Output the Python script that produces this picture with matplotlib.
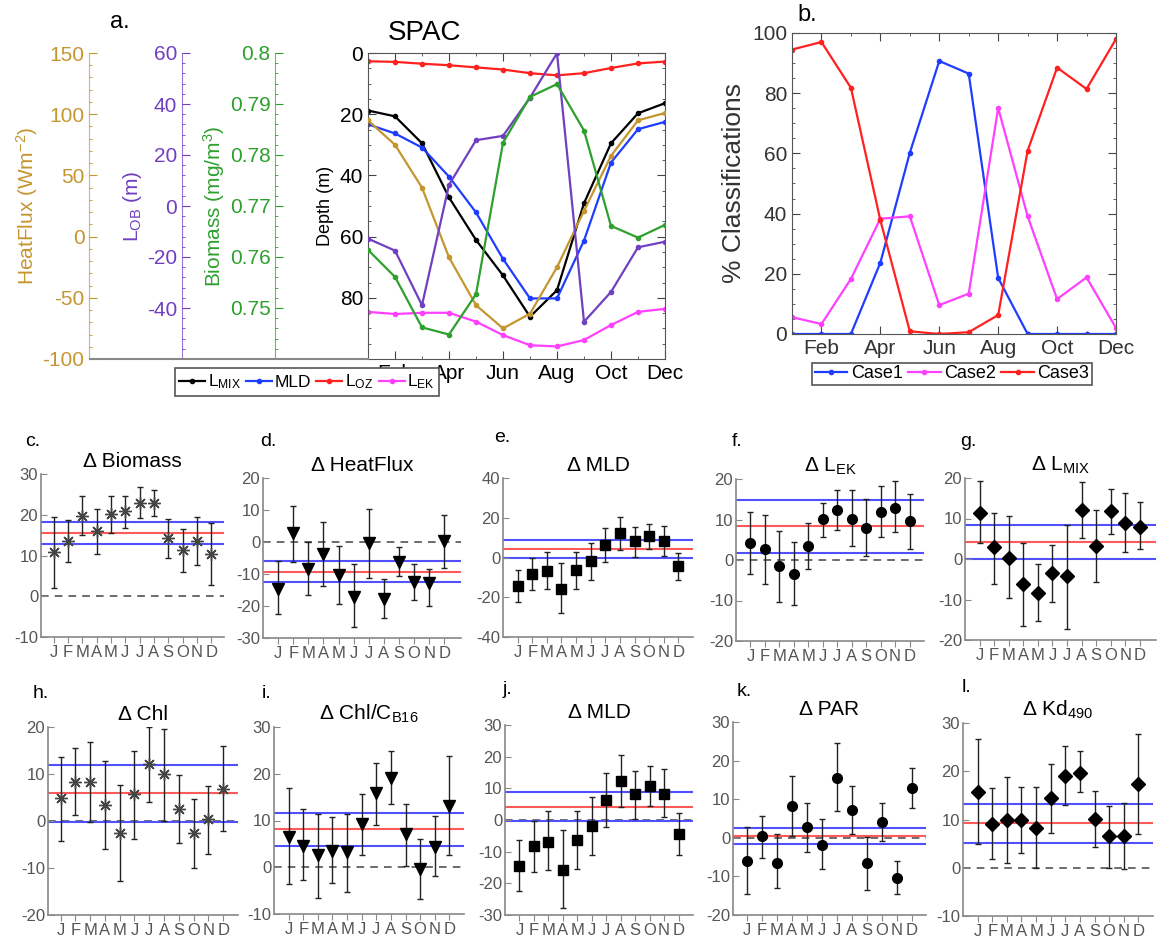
import numpy as np
import matplotlib.pyplot as plt
from matplotlib.ticker import AutoMinorLocator, MultipleLocator
from matplotlib.lines import Line2D

plt.rcParams['font.family'] = ['Liberation Sans', 'DejaVu Sans']
plt.rcParams['mathtext.fontset'] = 'custom'
plt.rcParams['mathtext.rm'] = 'Liberation Sans'
plt.rcParams['mathtext.default'] = 'regular'
plt.rcParams['axes.unicode_minus'] = False

W, H = 1160, 942

# ---- panel a: SPAC seasonal cycle ----
months = np.arange(1, 13)
month_labels = ['Feb', 'Apr', 'Jun', 'Aug', 'Oct', 'Dec']
month_letters = ['J', 'F', 'M', 'A', 'M', 'J', 'J', 'A', 'S', 'O', 'N', 'D']

l_mix = [18.8, 20.7, 29.5, 47.2, 61.1, 72.7, 86.2, 77.5, 49.1, 29.5, 19.7, 16.4]
mld = [23.3, 26.3, 30.9, 40.4, 52.1, 67.3, 80.2, 80.2, 61.3, 35.8, 24.9, 22.5]
l_oz = [2.7, 2.9, 3.5, 4.0, 4.7, 5.4, 6.6, 7.3, 6.6, 4.9, 3.4, 2.8]
l_ek = [84.6, 85.3, 84.9, 84.9, 87.8, 92.2, 95.5, 95.9, 93.8, 88.9, 84.6, 83.6]
heatflux = [95, 75, 40, -17, -56, -75, -63, -25, 21, 66, 95, 101]
l_ob = [-12.8, -17.5, -38.9, 8.3, 25.8, 27.5, 42.5, 59.9, -45.4, -33.7, -16.2, -14.0]
biomass = [0.7614, 0.7561, 0.7462, 0.7448, 0.7527, 0.7824, 0.7914, 0.7939,
           0.7848, 0.7661, 0.7638, 0.7663]

# ---- panel b: % classifications ----
case1 = [0, 0, 0, 23.7, 60.2, 90.7, 86.5, 18.6, 0, 0, 0, 0]
case2 = [5.6, 3.3, 18.3, 38.3, 39.1, 9.6, 13.4, 75.1, 39.1, 11.6, 18.8, 2.0]
case3 = [94.5, 97.0, 81.8, 37.8, 0.9, 0, 0.6, 6.3, 60.9, 88.5, 81.4, 98.0]

# ---- panels c-l: monthly deltas (value, lower, upper) and reference lines ----
d_biomass = [10.9, 13.5, 19.8, 15.9, 20.2, 21.0, 23.0, 22.9, 14.3, 11.3, 13.5, 10.4]
d_biomass_lo = [2.0, 8.3, 15.1, 10.4, 15.5, 16.7, 19.2, 19.8, 9.4, 5.9, 7.6, 2.7]
d_biomass_hi = [19.4, 18.6, 24.5, 21.5, 24.7, 24.7, 26.9, 26.0, 19.0, 16.6, 19.4, 18.0]
d_biomass_ref = [18.1, 15.5, 12.9]

d_heat = [-14.6, 2.7, -8.3, -3.8, -10.4, -17.2, -0.4, -17.7, -6.2, -12.5, -12.8, 0.4]
d_heat_lo = [-22.6, -6.2, -16.7, -13.7, -19.5, -26.6, -11.2, -23.7, -10.7, -18.2, -20.1, -8.1]
d_heat_hi = [-5.9, 11.1, -0.1, 6.4, -1.2, -7.0, 10.4, -11.7, -1.5, -6.9, -8.3, 8.5]
d_heat_ref = [-6.0, -9.3, -12.5]

d_mld = [-14.4, -8.1, -6.9, -15.8, -6.4, -1.8, 6.2, 12.4, 8.2, 10.7, 8.2, -4.4]
d_mld_lo = [-22.3, -16.4, -15.8, -27.9, -15.6, -11.1, -2.2, 4.0, 0.3, 4.4, 1.0, -11.1]
d_mld_hi = [-6.4, -0.2, 2.9, -3.0, 2.9, 7.4, 14.9, 20.5, 15.4, 17.1, 16.1, 2.3]
d_mld_ref = [8.8, 4.2, -0.3]

d_lek = [4.2, 2.6, -1.6, -3.4, 3.5, 10.1, 12.3, 10.2, 8.0, 11.9, 12.9, 9.6]
d_lek_lo = [-3.4, -6.0, -10.4, -11.2, -2.1, 5.7, 7.3, 3.5, 0.9, 5.7, 6.8, 2.8]
d_lek_hi = [11.9, 11.1, 7.1, 4.5, 9.2, 14.1, 17.4, 17.2, 15.0, 18.3, 19.5, 16.2]
d_lek_ref = [14.9, 8.3, 1.8]

d_lmix = [11.4, 3.0, 0.2, -6.2, -8.3, -3.5, -4.3, 12.2, 3.2, 11.8, 8.8, 8.0]
d_lmix_lo = [4.0, -6.2, -9.7, -16.5, -15.4, -10.5, -17.3, 5.3, -5.6, 6.2, 1.8, 2.4]
d_lmix_hi = [19.2, 11.4, 10.6, 4.0, -1.2, 3.4, 8.4, 18.9, 12.1, 17.2, 16.3, 14.1]
d_lmix_ref = [8.5, 4.3, 0.0]

d_chl = [4.8, 8.4, 8.2, 3.5, -2.6, 5.8, 12.1, 9.9, 2.5, -2.5, 0.4, 6.9]
d_chl_lo = [-4.3, 1.2, -0.2, -5.9, -12.8, -3.9, 4.1, 0.1, -4.6, -9.9, -7.1, -2.1]
d_chl_hi = [13.7, 15.6, 16.8, 12.8, 7.6, 14.8, 19.9, 19.5, 9.8, 4.7, 7.4, 15.9]
d_chl_ref = [12.0, 5.9, -0.2]

d_chlc = [6.5, 4.5, 2.6, 3.5, 3.3, 9.2, 15.8, 19.1, 7.2, -0.4, 4.4, 13.1]
d_chlc_lo = [-3.6, -2.8, -6.5, -3.4, -5.4, 2.7, 9.1, 13.6, 0.3, -6.8, -1.8, 2.6]
d_chlc_hi = [17.0, 12.4, 11.4, 10.7, 11.4, 15.6, 22.2, 24.8, 13.6, 6.1, 10.9, 23.7]
d_chlc_ref = [11.5, 8.1, 4.5]

d_par = [-5.9, 0.4, -6.5, 8.3, 2.7, -1.9, 15.5, 7.2, -6.6, 4.1, -10.3, 12.8]
d_par_lo = [-14.6, -5.3, -13.1, 0.4, -3.6, -8.2, 6.9, 0.9, -13.4, -0.8, -14.6, 7.6]
d_par_hi = [2.8, 5.6, 0.9, 16.0, 9.1, 4.8, 24.6, 13.4, 0.3, 9.1, -6.0, 18.2]
d_par_ref = [2.6, 0.4, -1.6]

d_kd = [15.6, 9.1, 9.9, 9.9, 8.2, 14.4, 19.0, 19.7, 10.2, 6.6, 6.6, 17.3]
d_kd_lo = [4.9, 1.8, 1.0, 3.0, -0.1, 7.1, 13.0, 15.6, 4.4, 0.0, -0.3, 6.9]
d_kd_hi = [26.7, 16.5, 18.9, 16.8, 16.7, 21.5, 25.3, 24.1, 15.9, 12.8, 13.5, 27.8]
d_kd_ref = [13.2, 9.2, 5.2]


def box(l, t, r, b):
    return [l / W, 1 - b / H, (r - l) / W, (b - t) / H]


fig = plt.figure(figsize=(W / 100, H / 100), dpi=100)

# ================= panel a =================
gold, purple, green = '#c4962f', '#7040c0', '#2ea02e'
ax = fig.add_axes(box(368, 53, 665, 359))


def side_axis(frac, color, ylim, ticks, fmt, label):
    tw = ax.twinx()
    tw.set_ylim(*ylim)
    for s in ['top', 'right', 'bottom']:
        tw.spines[s].set_visible(False)
    tw.spines['left'].set_visible(True)
    tw.spines['left'].set_position(('axes', frac))
    tw.spines['left'].set_color(color)
    tw.spines['left'].set_alpha(0.7)
    tw.yaxis.set_ticks_position('left')
    tw.yaxis.set_label_position('left')
    tw.set_yticks(ticks)
    tw.set_yticklabels([fmt(t) for t in ticks])
    tw.yaxis.set_minor_locator(AutoMinorLocator(5))
    tw.tick_params(which='both', direction='in', colors=color, labelsize=15)
    tw.tick_params(which='major', length=6)
    tw.set_ylabel(label, color=color, fontsize=15, labelpad=2)
    return tw


ax_hf = side_axis(-0.938, gold, (-100, 150), range(-100, 151, 50),
                  lambda t: f'{t}', 'HeatFlux (Wm$^{-2}$)')
ax_ob = side_axis(-0.6255, purple, (-60, 60), range(-40, 61, 20),
                  lambda t: f'{t}', 'L$_{OB}$ (m)')
ax_bm = side_axis(-0.312, green, (0.74, 0.80), [0.75, 0.76, 0.77, 0.78, 0.79, 0.80],
                  lambda t: f'{t:g}', 'Biomass (mg/m$^3$)')

kw = dict(marker='.', ms=6, lw=1.6)
ax.plot(months, l_mix, color='k', label='L$_{MIX}$', **kw)
ax.plot(months, mld, color='#1f3dff', label='MLD', **kw)
ax.plot(months, l_oz, color='#ff2020', label='L$_{OZ}$', **kw)
ax.plot(months, l_ek, color='#ff40ff', label='L$_{EK}$', **kw)
ax_hf.plot(months, heatflux, color=gold, **kw)
ax_ob.plot(months, l_ob, color=purple, **kw)
ax_bm.plot(months, biomass, color=green, **kw)

ax.set_xlim(1, 12)
ax.set_ylim(100, 0)
ax.set_xticks(months[1::2])
ax.set_xticklabels(month_labels)
ax.xaxis.set_minor_locator(MultipleLocator(1))
ax.set_yticks(range(0, 100, 20))
ax.yaxis.set_minor_locator(MultipleLocator(5))
ax.tick_params(which='both', direction='in', top=True, right=True, labelsize=15,
               color='#444')
ax.tick_params(which='major', length=6)
ax.tick_params(axis='y', which='both', left=True, right=True, labelleft=True,
               labelright=False)
for s in ax.spines.values():
    s.set_color('#555')
ax.set_ylabel('Depth (m)', fontsize=13, labelpad=4)

fig.add_artist(Line2D([90 / W, 368 / W], [1 - 359 / H] * 2, color='#888', lw=1.5))
fig.text(120 / W, 1 - 22 / H, 'a.', fontsize=17, ha='center', va='center')
fig.text(425 / W, 1 - 33 / H, 'SPAC', fontsize=20, ha='center', va='center')

leg = fig.legend(handles=ax.get_lines(), loc='center', ncol=4,
                 bbox_to_anchor=(307 / W, 1 - 382 / H), fontsize=12.5,
                 frameon=True, fancybox=False, framealpha=1, handlelength=1.5,
                 handletextpad=0.15, columnspacing=0.3, borderpad=0.25,
                 borderaxespad=0)
leg.get_frame().set_edgecolor('#555')
leg.get_frame().set_linewidth(1.2)

# ================= panel b =================
axb = fig.add_axes(box(792, 33, 1116, 334))
axb.plot(months, case1, color='#1f3dff', label='Case1', **kw)
axb.plot(months, case2, color='#ff40ff', label='Case2', **kw)
axb.plot(months, case3, color='#ff2020', label='Case3', **kw)
axb.set_xlim(1, 12)
axb.set_ylim(0, 100)
axb.set_xticks(months[1::2])
axb.set_xticklabels(month_labels)
axb.xaxis.set_minor_locator(MultipleLocator(1))
axb.set_yticks(range(0, 101, 20))
axb.yaxis.set_minor_locator(MultipleLocator(5))
axb.tick_params(which='both', direction='in', top=True, right=True, labelsize=15,
                color='#444', labelcolor='#333')
axb.tick_params(which='major', length=6)
for s in axb.spines.values():
    s.set_color('#555')
axb.set_ylabel('% Classifications', fontsize=19, color='#333', labelpad=4)
fig.text(807 / W, 1 - 15 / H, 'b.', fontsize=17, ha='center', va='center')
legb = fig.legend(handles=axb.get_lines(), loc='center', ncol=3,
                  bbox_to_anchor=(952 / W, 1 - 374 / H), fontsize=13,
                  frameon=True, fancybox=False, framealpha=1, handlelength=1.8,
                  handletextpad=0.2, columnspacing=0.3, borderpad=0.15,
                  borderaxespad=0)
legb.get_frame().set_edgecolor('#555')
legb.get_frame().set_linewidth(1.2)


# ================= panels c-l =================
def delta_panel(pos, letter, letter_xy, title, val, lo, hi, ref, marker, ms,
                ylim, ystep, xlim):
    a = fig.add_axes(box(*pos))
    val, lo, hi = np.array(val), np.array(lo), np.array(hi)
    a.axhline(0, color='#444', ls='--', lw=1.1, dashes=(5, 4), zorder=1)
    a.axhline(ref[0], color='#5050ff', lw=1.5, zorder=1)
    a.axhline(ref[1], color='#ff5a5a', lw=1.5, zorder=1)
    a.axhline(ref[2], color='#5050ff', lw=1.5, zorder=1)
    if marker == 'ast':
        mk = dict(marker=(8, 2, 0), ms=9, mew=1, mec='#444', mfc='none')
    else:
        mk = dict(marker=marker, ms=ms, mec='k', mfc='k')
    a.errorbar(months, val, yerr=[np.clip(val - lo, 0, None), np.clip(hi - val, 0, None)],
               fmt='none', ecolor='#222', elinewidth=1, capsize=2.5, capthick=1,
               zorder=2)
    a.plot(months, val, ls='none', zorder=3, **mk)
    a.set_xlim(*xlim)
    a.set_ylim(*ylim)
    a.set_xticks(months)
    a.set_xticklabels(month_letters)
    a.set_yticks(np.arange(ylim[0], ylim[1] + 1, ystep))
    for s in ['top', 'right']:
        a.spines[s].set_visible(False)
    for s in ['left', 'bottom']:
        a.spines[s].set_color('#888')
        a.spines[s].set_linewidth(1.2)
    a.tick_params(axis='y', direction='in', length=4, color='#888',
                  labelsize=12, labelcolor='#555', pad=2)
    a.tick_params(axis='x', direction='out', length=4, color='#888',
                  labelsize=12, labelcolor='#555', pad=2)
    a.set_title(title, fontsize=15, pad=5)
    fig.text(letter_xy[0] / W, 1 - letter_xy[1] / H, letter, fontsize=14,
             ha='center', va='center')
    return a


delta_panel((41, 474, 224, 637), 'c.', (33, 442), '\u0394 Biomass',
            d_biomass, d_biomass_lo, d_biomass_hi, d_biomass_ref, 'ast', 0,
            (-10, 30), 10, (0.1, 12.9))
delta_panel((263, 478, 461, 638), 'd.', (268, 442), '\u0394 HeatFlux',
            d_heat, d_heat_lo, d_heat_hi, d_heat_ref, 'v', 8,
            (-30, 20), 10, (0, 13.1))
delta_panel((503, 478, 693, 637), 'e.', (502, 437), '\u0394 MLD',
            d_mld, d_mld_lo, d_mld_hi, d_mld_ref, 's', 7,
            (-40, 40), 20, (0, 13))
delta_panel((736, 479, 924, 641), 'f.', (737, 441), '\u0394 L$_{EK}$',
            d_lek, d_lek_lo, d_lek_hi, d_lek_ref, 'o', 7,
            (-20, 20), 10, (0, 13))
delta_panel((965, 478, 1156, 640), 'g.', (968, 441), '\u0394 L$_{MIX}$',
            d_lmix, d_lmix_lo, d_lmix_hi, d_lmix_ref, 'D', 7,
            (-20, 20), 10, (0, 13.1))

delta_panel((48, 727, 238, 915), 'h.', (41, 693), '\u0394 Chl',
            d_chl, d_chl_lo, d_chl_hi, d_chl_ref, 'ast', 0,
            (-20, 20), 10, (0.15, 13))
delta_panel((274, 727, 464, 914), 'i.', (267, 693), '\u0394 Chl/C$_{B16}$',
            d_chlc, d_chlc_lo, d_chlc_hi, d_chlc_ref, 'v', 8,
            (-10, 30), 10, (0, 13))
delta_panel((505, 725, 693, 915), 'j.', (507, 690), '\u0394 MLD',
            d_mld, d_mld_lo, d_mld_hi, d_mld_ref, 's', 7,
            (-30, 30), 10, (0, 13))
delta_panel((733, 722, 926, 915), 'k.', (744, 691), '\u0394 PAR',
            d_par, d_par_lo, d_par_hi, d_par_ref, 'o', 7,
            (-20, 30), 10, (0.1, 12.95))
delta_panel((963, 723, 1153, 916), 'l.', (966, 688), '\u0394 Kd$_{490}$',
            d_kd, d_kd_lo, d_kd_hi, d_kd_ref, 'D', 7,
            (-10, 30), 10, (0, 13))

fig.savefig('out.png', dpi=100)
